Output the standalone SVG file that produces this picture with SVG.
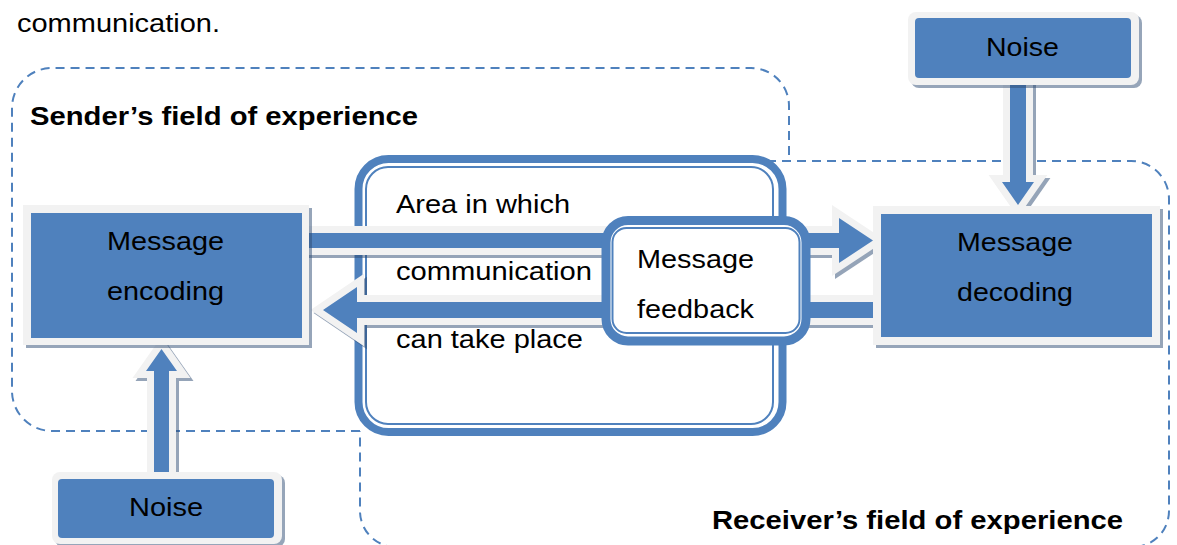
<svg xmlns="http://www.w3.org/2000/svg" width="1177" height="545" viewBox="0 0 1177 545">
<style>
.t{font-family:"Liberation Sans",Arial,sans-serif;font-size:26px;fill:#000}
.b{font-weight:bold}
.dash{fill:none;stroke:#4f81bd;stroke-width:2;stroke-dasharray:9 6}
.blue{fill:#4f81bd}
.frame{fill:#f2f2f2}
.shd{fill:#2d4b73;opacity:0.5}
.arr{fill:#4f81bd;stroke:#f2f2f2;stroke-width:14;stroke-linejoin:miter;stroke-miterlimit:6;paint-order:stroke}
.arrs{fill:#2d4b73;stroke:#2d4b73;stroke-width:14;stroke-linejoin:miter;stroke-miterlimit:6;opacity:0.5}
</style>
<rect width="1177" height="545" fill="#fff"/>
<text class="t" x="17" y="32" textLength="203" lengthAdjust="spacingAndGlyphs">communication.</text>

<g id="sender-field">
<path class="dash" d="M360 431 H52 A40 40 0 0 1 12 391 V108 A40 40 0 0 1 52 68 H751 A38 38 0 0 1 789 106 V161"/>
<text class="t b" x="30" y="125" textLength="388" lengthAdjust="spacingAndGlyphs">Sender’s field of experience</text>
</g>
<g id="receiver-field">
<path class="dash" d="M767 161 H1131 A38 38 0 0 1 1169 199 V511 A36 36 0 0 1 1133 547 H396 A36 36 0 0 1 360 511 V431"/>
<text class="t b" x="712" y="529" textLength="411" lengthAdjust="spacingAndGlyphs">Receiver’s field of experience</text>
</g>

<g id="area">
<rect x="358.5" y="159" width="424" height="273" rx="30" fill="#fff" stroke="#4f81bd" stroke-width="8"/>
<rect x="366" y="167" width="407" height="257" rx="22" fill="none" stroke="#4f81bd" stroke-width="2"/>
<text class="t" x="396" y="213" textLength="174" lengthAdjust="spacingAndGlyphs">Area in which</text>
<text class="t" x="396" y="280" textLength="196" lengthAdjust="spacingAndGlyphs">communication</text>
<text class="t" x="396" y="348" textLength="187" lengthAdjust="spacingAndGlyphs">can take place</text>
</g>

<g id="connectors">
<polygon class="arrs" transform="translate(3,3)" points="309,233 839,233 839,218 873,240.5 839,263 839,248 309,248"/>
<polygon class="arr" points="309,233 839,233 839,218 873,240.5 839,263 839,248 309,248"/>
<polygon class="arrs" transform="translate(3,3)" points="873,302 357,302 357,287 323,310 357,333 357,318 873,318"/>
<polygon class="arr" points="873,302 357,302 357,287 323,310 357,333 357,318 873,318"/>
<polygon class="arrs" transform="translate(3,3)" points="154,479 154,371 146,371 161.5,349 177,371 169,371 169,479"/>
<polygon class="arr" points="154,479 154,371 146,371 161.5,349 177,371 169,371 169,479"/>
<polygon class="arrs" transform="translate(3,3)" points="1010,80 1010,182 1002,182 1018,205 1034,182 1026,182 1026,80"/>
<polygon class="arr" points="1010,80 1010,182 1002,182 1018,205 1034,182 1026,182 1026,80"/>
</g>

<g id="feedback">
<rect x="606" y="220.5" width="200" height="120.5" rx="22" fill="#fff" stroke="#4f81bd" stroke-width="9"/>
<rect x="612.5" y="228" width="187" height="105" rx="14" fill="none" stroke="#4f81bd" stroke-width="2"/>
<text class="t" x="637" y="268" textLength="117" lengthAdjust="spacingAndGlyphs">Message</text>
<text class="t" x="637" y="318" textLength="117" lengthAdjust="spacingAndGlyphs">feedback</text>
</g>

<g id="encoding">
<rect class="shd" x="26" y="208" width="286" height="140"/>
<rect class="frame" x="23" y="205" width="286" height="140"/>
<rect class="blue" x="31" y="213" width="271" height="125"/>
<text class="t" x="107" y="250" textLength="117" lengthAdjust="spacingAndGlyphs">Message</text>
<text class="t" x="107" y="300" textLength="117" lengthAdjust="spacingAndGlyphs">encoding</text>
</g>

<g id="decoding">
<rect class="shd" x="876" y="209" width="287" height="139"/>
<rect class="frame" x="873" y="206" width="287" height="139"/>
<rect class="blue" x="881" y="214" width="271" height="123"/>
<text class="t" x="957" y="251" textLength="116" lengthAdjust="spacingAndGlyphs">Message</text>
<text class="t" x="957" y="301" textLength="116" lengthAdjust="spacingAndGlyphs">decoding</text>
</g>

<g id="noise-top">
<rect class="shd" x="911" y="15" width="231" height="73" rx="8"/>
<rect class="frame" x="908" y="12" width="231" height="73" rx="8"/>
<rect class="blue" x="915" y="18" width="216" height="60" rx="4"/>
<text class="t" x="986" y="56" textLength="73" lengthAdjust="spacingAndGlyphs">Noise</text>
</g>

<g id="noise-bottom">
<rect class="shd" x="55" y="475" width="230" height="72" rx="8"/>
<rect class="frame" x="52" y="472" width="230" height="72" rx="8"/>
<rect class="blue" x="58" y="479" width="216" height="59" rx="4"/>
<text class="t" x="129" y="516" textLength="74" lengthAdjust="spacingAndGlyphs">Noise</text>
</g>
</svg>
